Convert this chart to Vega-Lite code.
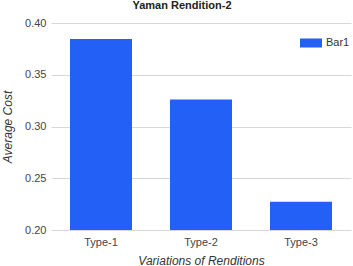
{
  "$schema": "https://vega.github.io/schema/vega-lite/v6.json",
  "width": 300,
  "height": 207,
  "autosize": {"type": "none"},
  "padding": {"left": 51, "top": 23, "right": 2, "bottom": 36},
  "background": "white",
  "title": {
    "text": "Yaman Rendition-2",
    "font": "Liberation Sans",
    "fontSize": 11,
    "fontWeight": "bold",
    "color": "#222222",
    "offset": 6,
    "dx": -19
  },
  "data": {
    "values": [
      {"type": "Type-1", "cost": 0.3845, "series": "Bar1"},
      {"type": "Type-2", "cost": 0.326, "series": "Bar1"},
      {"type": "Type-3", "cost": 0.2273, "series": "Bar1"}
    ]
  },
  "mark": {"type": "bar"},
  "encoding": {
    "x": {
      "field": "type",
      "type": "nominal",
      "scale": {"paddingInner": 0.38, "paddingOuter": 0.19},
      "axis": {
        "title": "Variations of Renditions",
        "labelAngle": 0,
        "domain": false,
        "ticks": false,
        "labelPadding": 6,
        "titlePadding": 8
      }
    },
    "y": {
      "field": "cost",
      "type": "quantitative",
      "scale": {"domain": [0.2, 0.4], "zero": false, "nice": false},
      "axis": {
        "title": "Average Cost",
        "values": [0.2, 0.25, 0.3, 0.35, 0.4],
        "format": ".2f",
        "domain": false,
        "ticks": false,
        "labelPadding": 5,
        "titlePadding": 10
      }
    },
    "y2": {"datum": 0.2},
    "color": {
      "field": "series",
      "type": "nominal",
      "scale": {"range": ["#2360f5"]},
      "legend": {
        "title": null,
        "orient": "none",
        "legendX": 249,
        "legendY": 9,
        "symbolType": "M-1,-0.41H1V0.41H-1Z",
        "symbolSize": 484,
        "symbolStrokeWidth": 0,
        "labelFont": "Liberation Sans",
        "labelFontSize": 11,
        "labelColor": "#333333",
        "padding": 0
      }
    }
  },
  "config": {
    "view": {"stroke": null},
    "axis": {
      "labelFont": "Liberation Sans",
      "labelFontSize": 11,
      "labelColor": "#444444",
      "titleFont": "Liberation Sans",
      "titleFontSize": 12,
      "titleFontStyle": "italic",
      "titleFontWeight": "normal",
      "titleColor": "#333333",
      "gridColor": "#d8d8d8"
    }
  }
}
